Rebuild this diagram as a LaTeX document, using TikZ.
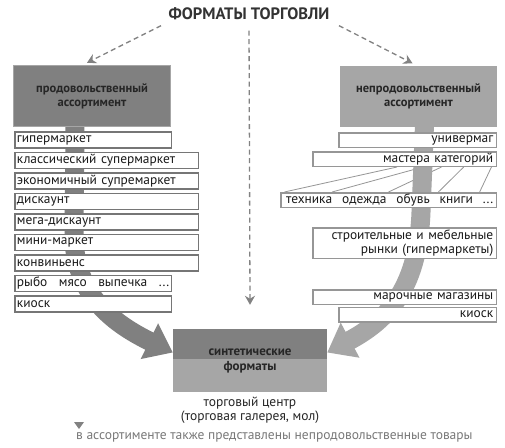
\documentclass[tikz,border=0pt]{standalone}
\usepackage{fontspec}
\setmainfont{PT Sans}
\usetikzlibrary{matrix,positioning,calc,arrows.meta,backgrounds}
\definecolor{hdrdark}{RGB}{128,128,128}
\definecolor{hdrlight}{RGB}{166,166,166}
\definecolor{boxline}{RGB}{118,118,118}
\definecolor{boxlight}{RGB}{150,150,150}
\definecolor{dashgray}{RGB}{130,130,130}
\definecolor{txtgray}{RGB}{120,120,120}

\begin{document}
\begin{tikzpicture}[x=1pt,y=-1pt,
  hdr/.style={minimum width=157pt,minimum height=61pt,align=center,inner sep=0pt,
    font=\bfseries\fontsize{12.5}{14}\selectfont,text=black!85},
  fmat/.style={matrix of nodes,row sep=3pt,inner sep=0pt,
    nodes={draw=boxline,line width=1.5pt,fill=white,anchor=west,align=left,
      inner xsep=2pt,inner ysep=0pt,minimum height=16pt,text=black!90,
      font=\fontsize{13.4}{14}\selectfont}},
  nbox/.style={draw=boxlight,line width=1.5pt,fill=white,align=right,
    inner xsep=3pt,inner ysep=1pt,minimum height=14.5pt,text=black!90,
    font=\fontsize{13.4}{14}\selectfont},
  dasharrow/.style={dashgray,line width=1.3pt,dash pattern=on 5pt off 3.5pt,
    -{Stealth[length=9pt,width=10pt]}},
  bigarrow/.style={line width=19pt,-{Triangle[length=26pt,width=38pt]}},
  fanline/.style={boxlight,line width=0.8pt}]

  \useasboundingbox (0,0) rectangle (505,447);

  \node[font=\bfseries\fontsize{16.5}{18}\selectfont,text=black!80] (title) at (249,14) {ФОРМАТЫ ТОРГОВЛИ};

  % headers
  \node[hdr,fill=hdrdark,draw=hdrlight,line width=1.5pt] (food) at (92,96) {продовольственный\\ассортимент};
  \node[hdr,fill=hdrlight] (nonfood) at (418.5,96) {непродовольственный\\ассортимент};

  % food formats
  \matrix[fmat,anchor=north west] (flist) at (14,131) {
    |[text width=152.5pt]| гипермаркет\\
    |[text width=179.5pt]| классический супермаркет\\
    |[text width=179.5pt]| экономичный супремаркет\\
    |[text width=179.5pt]| дискаунт\\
    |[text width=179.5pt]| мега-дискаунт\\
    |[text width=179.5pt]| мини-маркет\\
    |[text width=179.5pt]| конвиньенс\\
    |[text width=152.5pt]| рыбо\hspace{7pt} мясо\hspace{7pt} выпечка\hspace{7pt} ...\\
    |[text width=152.5pt]| киоск\\
  };

  % non-food formats
  \node[nbox,text width=151.5pt,anchor=north east] (n1) at (497,132) {универмаг};
  \node[nbox,text width=177.5pt,below=3pt of n1.south east,anchor=north east] (n2) {мастера категорий};
  \node[nbox,text width=209.5pt,below=25pt of n2.south east,anchor=north east] (n3)
    {техника\hspace{5.5pt} одежда\hspace{5.5pt} обувь\hspace{5.5pt} книги\hspace{5.5pt} ...};
  \node[nbox,text width=177.5pt,minimum height=30.5pt,below=19pt of n3.south east,anchor=north east] (n4)
    {строительные и мебельные\\рынки (гипермаркеты)};
  \node[nbox,text width=177.5pt,below=30pt of n4.south east,anchor=north east] (n5) {марочные магазины};
  \node[nbox,text width=151.5pt,below=1.5pt of n5.south east,anchor=north east] (n6) {киоск};

  % synthetic formats
  \node[minimum width=154pt,minimum height=63pt,inner sep=0pt,fill=hdrlight,align=center,
    font=\bfseries\fontsize{13}{15}\selectfont,text=black!85,
    path picture={\fill[hdrdark] (path picture bounding box.north west) rectangle ([yshift=1.5pt]path picture bounding box.east);}]
    (synth) at (250,360.5) {синтетические\\форматы};
  \node[below=1pt of synth,align=center,font=\fontsize{13.5}{14}\selectfont,text=black!85] (mall)
    {торговый центр\\(торговая галерея, мол)};

  % legend
  \node[anchor=west,inner sep=0pt,text=txtgray,font=\fontsize{13.5}{14}\selectfont] (legend) at (76,437)
    {в ассортименте также представлены непродовольственные товары};
  \fill[dashgray] ($(legend.north west)+(-2,-10)$) -- ++(10,0) -- ++(-5,7) -- cycle;

  % dashed links from the title
  \draw[dasharrow] ($(title.south west)+(-4,2)$) -- ($(food.north)+(-5,-2)$);
  \draw[dasharrow] ($(title.south east)+(6,2)$) -- ($(nonfood.north)+(-6,-2)$);
  \draw[dasharrow,shorten <=7pt] (title.south) -- ($(synth.north)+(0,-24)$);

  \begin{pgfonlayer}{background}
    \fill[white] (0,0) rectangle (505,447);
    \foreach \a/\b in {0.46/0.02,0.6/0.24,0.7/0.5,0.82/0.73,0.97/0.92}
      \draw[fanline] ($(n2.south west)!\a!(n2.south east)$) -- ($(n3.north west)!\b!(n3.north east)$);
    % big arrows into the synthetic formats
    \draw[bigarrow,hdrdark] ($(food.south)+(-17,-2)$) -- (74,235)
      .. controls (74,292) and (110,322) .. ($(synth.west)+(0,-8)$);
    \draw[bigarrow,hdrlight] ($(nonfood.south)+(6,-2)$) -- (421,212)
      .. controls (418,292) and (384,322) .. ($(synth.east)+(0,-8)$);
  \end{pgfonlayer}
\end{tikzpicture}
\end{document}
